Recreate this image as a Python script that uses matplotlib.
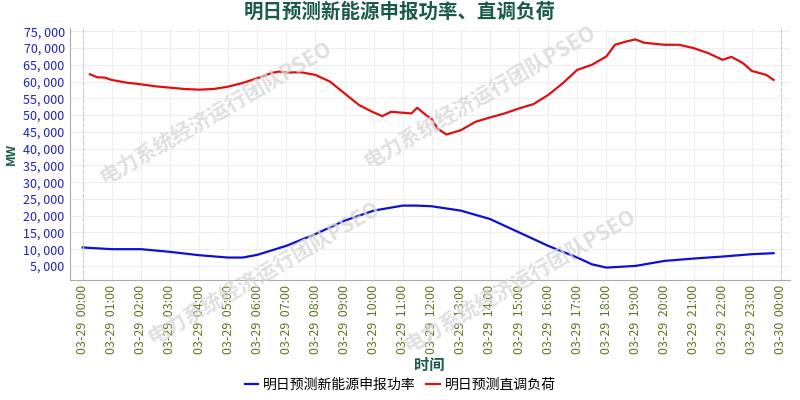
import matplotlib
matplotlib.use("Agg")
import matplotlib.pyplot as plt
from matplotlib.ticker import FuncFormatter

plt.rcParams['font.family'] = ['Noto Sans CJK SC', 'DejaVu Sans']

red_h = [0.25, 0.5, 0.75, 1, 1.5, 2, 2.5, 3, 3.5, 4, 4.5, 5, 5.5, 6, 6.5, 6.75, 7, 7.5, 8, 8.5, 9, 9.5, 10, 10.3, 10.6, 11.3, 11.5, 11.8, 12, 12.2, 12.5, 13, 13.5, 14, 14.5, 15, 15.5, 16, 16.5, 17, 17.5, 18, 18.3, 18.7, 19, 19.3, 20, 20.5, 21, 21.5, 22, 22.3, 22.7, 23, 23.5, 23.75]
red_v = [62200, 61300, 61200, 60500, 59700, 59200, 58600, 58200, 57800, 57600, 57800, 58500, 59600, 61000, 62600, 63000, 62700, 62800, 62000, 60000, 56500, 53000, 50800, 49700, 51000, 50500, 52200, 50000, 48800, 46000, 44200, 45500, 48000, 49300, 50500, 52000, 53300, 56000, 59500, 63500, 65000, 67500, 71000, 72000, 72600, 71600, 71000, 71000, 70000, 68500, 66500, 67400, 65500, 63200, 62000, 60500]
blue_h = [0, 1, 2, 3, 4, 5, 5.5, 6, 7, 8, 9, 10, 11, 11.5, 12, 13, 14, 15, 16, 17, 17.5, 18, 19, 20, 21, 22, 23, 23.75]
blue_v = [10500, 10000, 10000, 9200, 8200, 7500, 7500, 8300, 11000, 14500, 18500, 21500, 23000, 23000, 22800, 21500, 19000, 15000, 11000, 7500, 5500, 4500, 5000, 6500, 7200, 7800, 8500, 8800]
tick_labels = [f"03-29  {h:02d}:00" for h in range(24)] + ["03-30  00:00"]

fig = plt.figure(figsize=(8, 4), dpi=100)
ax = fig.add_axes([0.087, 0.3, 0.9, 0.63])
ax.plot(blue_h, blue_v, color='#1010d0', lw=1.6, label='明日预测新能源申报功率')
ax.plot(red_h, red_v, color='#e01010', lw=1.6, label='明日预测直调负荷')
ax.set_xlim(-0.45, 24.3)
ax.set_ylim(800, 76000)
ax.set_xticks(range(25))
ax.set_xticklabels(tick_labels, rotation=90, color='#5a7a20', fontsize=9)
ax.set_yticks(range(5000, 75001, 5000))
ax.yaxis.set_major_formatter(FuncFormatter(lambda v, p: f"{int(v):,}".replace(",", ", ")))
ax.tick_params(axis='y', colors='#2020c0', labelsize=9, length=0)
ax.tick_params(axis='x', length=0)
ax.grid(color='#eeeeee', lw=0.8)
ax.axvline(0, color='#cccccc', ls='--', lw=0.8)
ax.axvline(24, color='#cccccc', ls='--', lw=0.8)
for s in ['top', 'right']:
    ax.spines[s].set_visible(False)
for s in ['left', 'bottom']:
    ax.spines[s].set_color('#aaaaaa')
ax.set_ylabel('MW', color='#1a5a4a', fontweight='bold', fontsize=9)
ax.set_xlabel('时间', color='#1a5a4a', fontweight='bold', fontsize=11, labelpad=2)
fig.suptitle('明日预测新能源申报功率、直调负荷', color='#1a5a4a', fontweight='bold', fontsize=14, y=0.995)
fig.legend(loc='lower center', ncol=2, frameon=False, fontsize=10, bbox_to_anchor=(0.5, -0.01), handlelength=1.0, handletextpad=0.3, columnspacing=0.8)
for (x, y) in [(0.27, 0.72), (0.33, 0.32), (0.6, 0.76), (0.65, 0.3)]:
    fig.text(x, y, '电力系统经济运行团队PSEO', rotation=30, color='#d8d8d8', alpha=0.8, fontsize=15, fontweight='bold', ha='center', va='center', zorder=0)
fig.savefig('out.png', dpi=100)
